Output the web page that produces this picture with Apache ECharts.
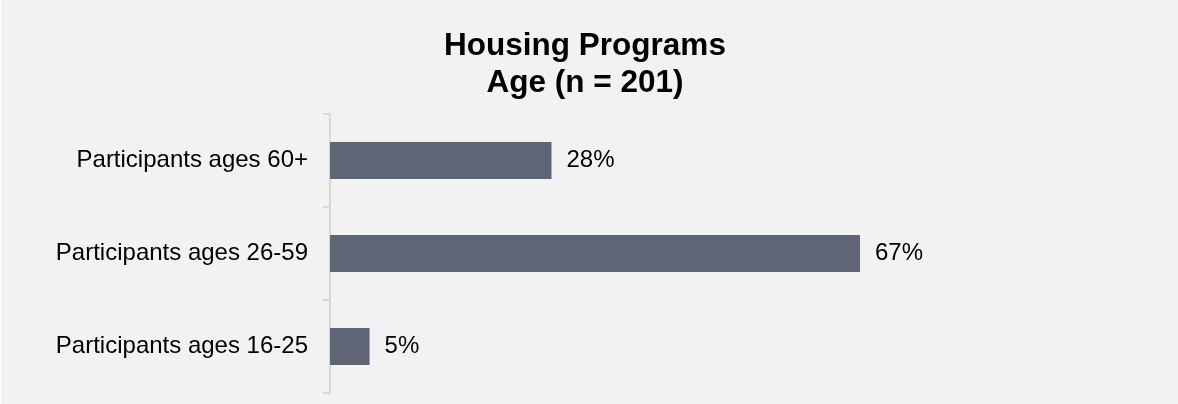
<!DOCTYPE html>
<html>
<head>
<meta charset="utf-8">
<script src="https://cdn.jsdelivr.net/npm/echarts@6/dist/echarts.min.js"></script>
<style>
  html, body { margin: 0; padding: 0; background: #ffffff; }
  #chart { position: absolute; left: 1px; top: 0; width: 1177px; height: 404px; background: #f2f2f2; }
</style>
</head>
<body>
<div id="chart"></div>
<script>
// Age groups, listed top to bottom
const categories = ['Participants ages 60+', 'Participants ages 26-59', 'Participants ages 16-25'];
// Share of participants in each group (%)
const shares = [28, 67, 5];
const titleLines = ['Housing Programs', 'Age (n = 201)'];

const chart = echarts.init(document.getElementById('chart'), null, { renderer: 'canvas' });

chart.setOption({
  backgroundColor: '#f2f2f2',
  animation: false,
  title: {
    text: titleLines.join('\n'),
    left: 579,
    top: 23,
    textAlign: 'center',
    textStyle: {
      fontFamily: 'Liberation Sans, Arial, sans-serif',
      fontWeight: 'bold',
      fontSize: 31.5,
      lineHeight: 37,
      color: '#000000'
    }
  },
  grid: {
    left: 329,
    right: 57,
    top: 114,
    bottom: 11,
    containLabel: false
  },
  xAxis: {
    type: 'value',
    min: 0,
    max: 100,
    show: false
  },
  yAxis: {
    type: 'category',
    data: categories,
    inverse: true,
    axisLine: { show: true, lineStyle: { color: '#d9d9d9', width: 2 } },
    axisTick: { show: true, length: 7, lineStyle: { color: '#d9d9d9', width: 2 } },
    axisLabel: {
      margin: 22,
      fontFamily: 'Liberation Sans, Arial, sans-serif',
      fontSize: 24,
      color: '#000000'
    }
  },
  series: [{
    type: 'bar',
    data: shares,
    barWidth: 37,
    itemStyle: { color: '#606477' },
    label: {
      show: true,
      position: 'right',
      distance: 15,
      formatter: p => p.value + '%',
      fontFamily: 'Liberation Sans, Arial, sans-serif',
      fontSize: 24,
      color: '#000000'
    }
  }]
});
</script>
</body>
</html>
